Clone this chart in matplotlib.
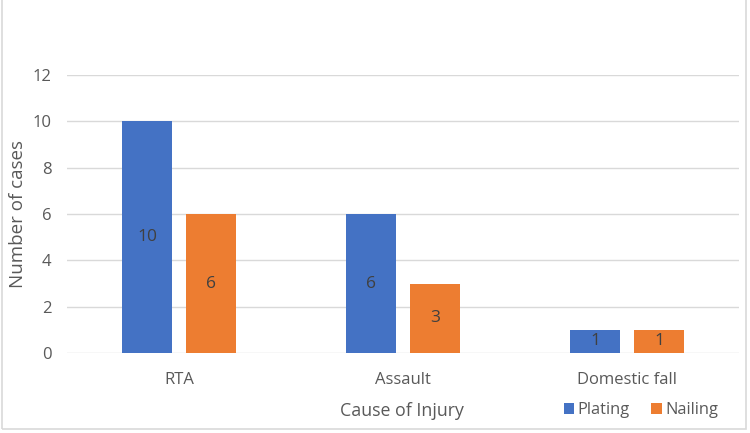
import matplotlib
matplotlib.use("Agg")
import matplotlib.pyplot as plt
from matplotlib.patches import Rectangle
import numpy as np

categories = ["RTA", "Assault", "Domestic fall"]
plating = [10, 6, 1]
nailing = [6, 3, 1]
series_names = ["Plating", "Nailing"]
yticks = [0, 2, 4, 6, 8, 10, 12]

plt.rcParams['font.family'] = ['Open Sans', 'DejaVu Sans']
gray = '#595959'
blue = '#4472C4'
orange = '#ED7D31'

fig = plt.figure(figsize=(7.5, 4.33), dpi=100)
ax = fig.add_axes([67/750, 80/433, 672/750, 278/433])

x = np.arange(len(categories))
w = 0.223
off = 0.143
b1 = ax.bar(x - off, plating, w, color=blue, label=series_names[0], zorder=3)
b2 = ax.bar(x + off, nailing, w, color=orange, label=series_names[1], zorder=3)

for bars, vals in ((b1, plating), (b2, nailing)):
    for r, v in zip(bars, vals):
        ax.text(r.get_x() + r.get_width() / 2, v / 2, str(v), ha='center', va='center',
                fontsize=12.5, color='#404040', zorder=4)

ax.set_xlim(-0.5, 2.5)
ax.set_ylim(0, 12)
ax.set_yticks(yticks)
ax.set_xticks(x)
ax.set_xticklabels(categories)
ax.grid(axis='y', color='#D9D9D9', linewidth=1, zorder=0)
for s in ax.spines.values():
    s.set_visible(False)
ax.tick_params(axis='both', length=0, colors=gray, labelsize=12)
ax.tick_params(axis='y', pad=11)
ax.tick_params(axis='x', pad=14)
ax.set_ylabel("Number of cases", fontsize=13.5, color=gray)
ax.yaxis.set_label_coords(-(67 - 27) / 672, 0.5)
fig.text(402/750, 1 - 411/433, "Cause of Injury", ha='center', va='center', fontsize=12.8, color=gray)

leg = fig.legend(handles=[b1, b2], labels=series_names, loc='center',
                 bbox_to_anchor=(641/750, 1 - 410/433), ncol=2, frameon=False,
                 handlelength=0.65, handleheight=0.65, handletextpad=0.2, columnspacing=1.3,
                 fontsize=11.8)
for t in leg.get_texts():
    t.set_color(gray)

fig.patches.append(Rectangle((2/750, 4/433), 744/750, 1 - 4/433 + 0.01, transform=fig.transFigure,
                             fill=False, edgecolor='#D9D9D9', linewidth=1.2))

fig.savefig("out.png", dpi=100)
